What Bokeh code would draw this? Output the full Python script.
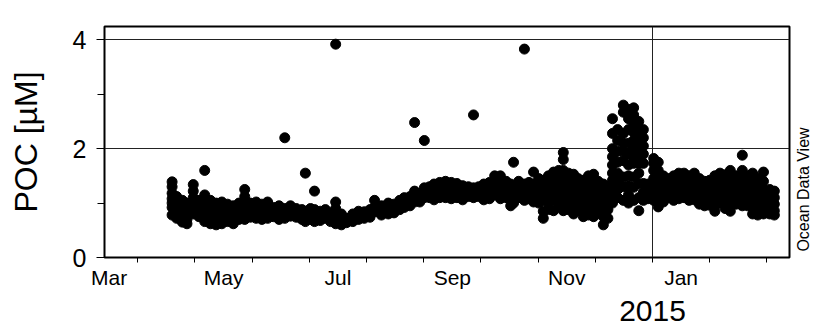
import math
from bokeh.plotting import figure
from bokeh.layouts import row
from bokeh.models import FixedTicker, Range1d, ColumnDataSource, LinearAxis
from bokeh.core.properties import value
from bokeh.embed import file_html
from bokeh.resources import INLINE

# x positions in months since 1 Jan 2014 (3.0 = 1 Apr 2014, 12.0 = 1 Jan 2015)
sample_month = [
    3.60, 3.68, 3.78, 3.86, 3.97, 4.07, 4.17, 4.27, 4.37, 4.47,
    4.57, 4.67, 4.77, 4.87, 4.97, 5.07, 5.17, 5.27, 5.37, 5.47,
    5.57, 5.67, 5.77, 5.87, 5.93, 6.02, 6.09, 6.19, 6.28, 6.37,
    6.46, 6.56, 6.65, 6.76, 6.86, 6.96, 7.06, 7.14, 7.26, 7.38,
    7.48, 7.58, 7.66, 7.76, 7.84, 7.93, 8.01, 8.10, 8.18, 8.28,
    8.38, 8.48, 8.58, 8.68, 8.78, 8.87, 8.96, 9.05, 9.15, 9.24,
    9.34, 9.44, 9.52, 9.57, 9.66, 9.76, 9.84, 9.92, 10.01, 10.09,
    10.18, 10.27, 10.36, 10.44, 10.53, 10.62, 10.70, 10.79, 10.88, 10.97,
    11.05, 11.14, 11.22, 11.30, 11.39, 11.49, 11.58, 11.67, 11.76, 11.84,
    11.92, 12.02, 12.10, 12.19, 12.28, 12.37, 12.46, 12.55, 12.64, 12.73,
    12.82, 12.91, 13.00, 13.09, 13.18, 13.27, 13.36, 13.46, 13.57, 13.66,
    13.75, 13.84, 13.94, 14.05, 14.13,
]

poc_profiles = [
    [1.39, 1.30, 1.18, 1.08, 1.00, 0.92, 0.78],
    [1.12, 1.02, 0.95, 0.85, 0.72],
    [1.05, 0.98, 0.90, 0.80, 0.65],
    [1.00, 0.92, 0.85, 0.70, 0.62],
    [1.34, 1.22, 1.10, 1.00, 0.90, 0.80],
    [1.05, 0.95, 0.85, 0.75],
    [1.60, 1.15, 1.05, 0.95, 0.80, 0.66],
    [1.05, 0.95, 0.85, 0.72, 0.62],
    [1.00, 0.90, 0.80, 0.68, 0.60],
    [1.02, 0.92, 0.82, 0.70, 0.62],
    [0.98, 0.88, 0.78, 0.66],
    [0.95, 0.85, 0.75, 0.62],
    [1.00, 0.90, 0.80, 0.70],
    [1.25, 1.12, 1.00, 0.90, 0.80, 0.70],
    [1.00, 0.92, 0.84, 0.74],
    [1.02, 0.92, 0.82, 0.72],
    [0.98, 0.90, 0.80, 0.70],
    [1.02, 0.93, 0.83, 0.72],
    [0.92, 0.84, 0.75],
    [0.95, 0.86, 0.78, 0.70],
    [2.20, 0.90, 0.82, 0.72],
    [0.95, 0.86, 0.76],
    [0.90, 0.82, 0.74],
    [0.88, 0.80, 0.70],
    [1.55, 0.85, 0.75, 0.66],
    [0.90, 0.80, 0.70],
    [1.22, 0.88, 0.78, 0.66],
    [0.85, 0.76, 0.68],
    [0.88, 0.80, 0.72],
    [0.82, 0.74, 0.66],
    [3.92, 1.02, 0.90, 0.80, 0.70, 0.62],
    [0.80, 0.70, 0.60],
    [0.72, 0.64],
    [0.80, 0.72, 0.66],
    [0.85, 0.76, 0.70],
    [0.84, 0.78, 0.72],
    [0.88, 0.80, 0.74],
    [1.05, 0.92, 0.84],
    [0.95, 0.86, 0.78],
    [1.00, 0.90, 0.80],
    [0.98, 0.90, 0.82],
    [1.05, 0.96, 0.88],
    [1.10, 1.00, 0.92],
    [1.12, 1.04, 0.95],
    [2.48, 1.22, 1.12, 1.02],
    [1.18, 1.10, 1.02],
    [2.15, 1.28, 1.20, 1.10],
    [1.30, 1.20, 1.10],
    [1.35, 1.25, 1.15, 1.06],
    [1.38, 1.28, 1.18, 1.10],
    [1.40, 1.30, 1.20, 1.10],
    [1.38, 1.28, 1.18, 1.08],
    [1.36, 1.27, 1.18, 1.10],
    [1.32, 1.22, 1.14, 1.06],
    [1.30, 1.20, 1.12],
    [2.62, 1.28, 1.20, 1.10],
    [1.30, 1.22, 1.12],
    [1.35, 1.25, 1.15, 1.06],
    [1.38, 1.28, 1.18, 1.08],
    [1.50, 1.35, 1.25, 1.15],
    [1.50, 1.38, 1.28, 1.18, 1.08],
    [1.40, 1.30, 1.20, 1.10],
    [1.35, 1.25, 1.15, 1.05, 0.95],
    [1.75, 1.30, 1.20, 1.10, 1.00],
    [1.40, 1.30, 1.20, 1.10],
    [3.83, 1.35, 1.25, 1.15, 1.05],
    [1.38, 1.28, 1.18, 1.08],
    [1.57, 1.35, 1.25, 1.15, 1.02],
    [1.45, 1.35, 1.25, 1.12, 1.00],
    [1.42, 1.30, 1.18, 1.05, 0.85, 0.72],
    [1.50, 1.40, 1.28, 1.15, 1.00, 0.88],
    [1.57, 1.45, 1.32, 1.20, 1.05, 0.86],
    [1.60, 1.48, 1.35, 1.22, 1.10, 0.95],
    [1.93, 1.80, 1.60, 1.45, 1.30, 1.15, 1.00, 0.86],
    [1.55, 1.40, 1.28, 1.15, 1.00, 0.88],
    [1.53, 1.40, 1.25, 1.10, 0.95, 0.80],
    [1.45, 1.32, 1.20, 1.05, 0.90],
    [1.42, 1.30, 1.15, 1.00, 0.85, 0.75],
    [1.50, 1.35, 1.20, 1.05, 0.90, 0.78],
    [1.53, 1.38, 1.22, 1.08, 0.92, 0.75],
    [1.40, 1.25, 1.10, 0.95, 0.82],
    [1.35, 1.20, 1.05, 0.90, 0.75, 0.60],
    [1.30, 1.15, 1.00, 0.88, 0.72],
    [2.55, 2.28, 2.00, 1.85, 1.70, 1.55, 1.42, 1.30, 1.15, 1.00],
    [2.35, 2.15, 1.95, 1.75, 1.55, 1.40, 1.25, 1.10],
    [2.80, 2.67, 2.28, 2.10, 1.95, 1.78, 1.48, 1.30, 1.05],
    [2.72, 2.55, 2.35, 2.10, 1.90, 1.70, 1.50, 1.32, 1.15, 1.00],
    [2.75, 2.62, 2.47, 2.30, 2.15, 2.00, 1.85, 1.73, 1.48, 1.29, 1.05],
    [2.50, 2.38, 2.20, 2.05, 1.88, 1.73, 1.55, 1.36, 1.10, 0.86],
    [2.35, 2.20, 2.05, 1.90, 1.73, 1.36, 1.20, 1.05],
    [1.35, 1.20, 1.08],
    [1.82, 1.73, 1.60, 1.45, 1.30, 1.18, 1.05],
    [1.75, 1.60, 1.45, 1.30, 1.15, 1.00, 0.93],
    [1.50, 1.38, 1.25, 1.12, 1.02],
    [1.45, 1.35, 1.22, 1.10],
    [1.50, 1.40, 1.28, 1.15, 1.05],
    [1.55, 1.42, 1.30, 1.18, 1.08],
    [1.55, 1.45, 1.32, 1.20, 1.10],
    [1.50, 1.40, 1.28, 1.15, 1.05],
    [1.55, 1.42, 1.30, 1.18, 1.06],
    [1.45, 1.35, 1.22, 1.10, 0.98],
    [1.40, 1.30, 1.20, 1.08, 0.95],
    [1.42, 1.32, 1.20, 1.08, 0.96],
    [1.50, 1.38, 1.25, 1.10, 0.95, 0.85],
    [1.55, 1.42, 1.28, 1.15, 1.00],
    [1.52, 1.40, 1.28, 1.15, 1.02, 0.90],
    [1.60, 1.45, 1.30, 1.15, 1.00, 0.85],
    [1.50, 1.38, 1.25, 1.12, 0.98],
    [1.88, 1.60, 1.45, 1.30, 1.15, 1.00, 0.95],
    [1.50, 1.38, 1.25, 1.10, 0.95],
    [1.55, 1.40, 1.25, 1.10, 0.92, 0.80],
    [1.45, 1.30, 1.15, 1.00, 0.85, 0.78],
    [1.57, 1.40, 1.25, 1.10, 0.95, 0.80],
    [1.25, 1.12, 1.00, 0.88, 0.80],
    [1.22, 1.10, 0.98, 0.86, 0.78],
]

month_label_pos = [2.5, 4.5, 6.5, 8.5, 10.5, 12.5]
month_labels = ["Mar", "May", "Jul", "Sep", "Nov", "Jan"]
month_start_ticks = [3, 4, 5, 6, 7, 8, 9, 10, 11, 12, 13, 14]
y_major = [0, 2, 4]
y_minor = [1, 3]
year_label = "2015"
year_pos = 12
credit_text = "Ocean Data View"
credit_pos = 1.25

xs, ys = [], []
for m, prof in zip(sample_month, poc_profiles):
    for v in prof:
        xs.append(m)
        ys.append(v)
src = ColumnDataSource(dict(x=xs, y=ys))

FONT = "Liberation Sans"
yr = Range1d(0, 4.245)

p = figure(width=791, height=327, output_backend="svg", toolbar_location=None,
           x_range=Range1d(2.418, 14.395), y_range=yr,
           min_border_left=104, min_border_right=2, min_border_top=26,
           min_border_bottom=70)
p.background_fill_color = "white"
p.border_fill_color = "white"
p.outline_line_color = "black"
p.outline_line_width = 2
p.outline_line_alpha = 1

p.scatter("x", "y", source=src, marker="circle", size=10,
          fill_color="black", line_color="black")

# x axis: ticks at month starts, labels mid-month
xa = p.xaxis[0]
xa.ticker = FixedTicker(ticks=month_label_pos, minor_ticks=month_start_ticks)
xa.major_label_overrides = {t: l for t, l in zip(month_label_pos, month_labels)}
xa.major_tick_line_color = None
xa.major_tick_out = 0
xa.major_tick_in = 0
xa.minor_tick_line_color = "black"
xa.minor_tick_out = 5
xa.minor_tick_in = 0
xa.axis_line_color = None
xa.major_label_text_font = FONT
xa.major_label_text_font_size = "21px"
xa.major_label_text_color = "black"
xa.major_label_standoff = 3

# year axis under the month axis
ya2 = LinearAxis(ticker=FixedTicker(ticks=[year_pos]),
                 major_label_overrides={year_pos: year_label})
ya2.major_tick_line_color = None
ya2.major_tick_out = 0
ya2.major_tick_in = 0
ya2.minor_tick_line_color = None
ya2.minor_tick_out = 0
ya2.minor_tick_in = 0
ya2.axis_line_color = None
ya2.major_label_text_font = FONT
ya2.major_label_text_font_size = "30px"
ya2.major_label_text_color = "black"
ya2.major_label_standoff = 9
p.add_layout(ya2, "below")

ya = p.yaxis[0]
ya.ticker = FixedTicker(ticks=y_major, minor_ticks=y_minor)
ya.major_tick_line_color = "black"
ya.major_tick_out = 8
ya.major_tick_in = 0
ya.minor_tick_line_color = "black"
ya.minor_tick_out = 7
ya.minor_tick_in = 0
ya.axis_line_color = None
ya.major_label_text_font = FONT
ya.major_label_text_font_size = "25px"
ya.major_label_text_color = "black"
ya.major_label_standoff = 10
ya.axis_label = "POC [µM]"
ya.axis_label_text_font = FONT
ya.axis_label_text_font_size = "32px"
ya.axis_label_text_font_style = "normal"
ya.axis_label_text_color = "black"
ya.axis_label_standoff = 26

# grids
p.ygrid.ticker = FixedTicker(ticks=[2, 4])
p.ygrid.grid_line_color = "#222222"
p.ygrid.grid_line_width = 1
p.xgrid.ticker = FixedTicker(ticks=[year_pos])
p.xgrid.grid_line_color = "#222222"
p.xgrid.grid_line_width = 1

# narrow strip on the right carrying the credit text
c = figure(width=22, height=327, output_backend="svg", toolbar_location=None,
           x_range=Range1d(0, 1), y_range=yr,
           min_border_left=0, min_border_right=0, min_border_top=26,
           min_border_bottom=70, x_axis_location=None, y_axis_location=None)
c.outline_line_color = None
c.background_fill_color = "white"
c.border_fill_color = "white"
c.grid.visible = False
c.text(x=[0.55], y=[credit_pos], text=[credit_text], angle=math.pi / 2,
       text_align="center", text_baseline="middle",
       text_font=value(FONT), text_font_size=value("16px"), text_color="black")

layout = row(p, c, spacing=0)
open("out.html", "w").write(file_html(layout, INLINE))
